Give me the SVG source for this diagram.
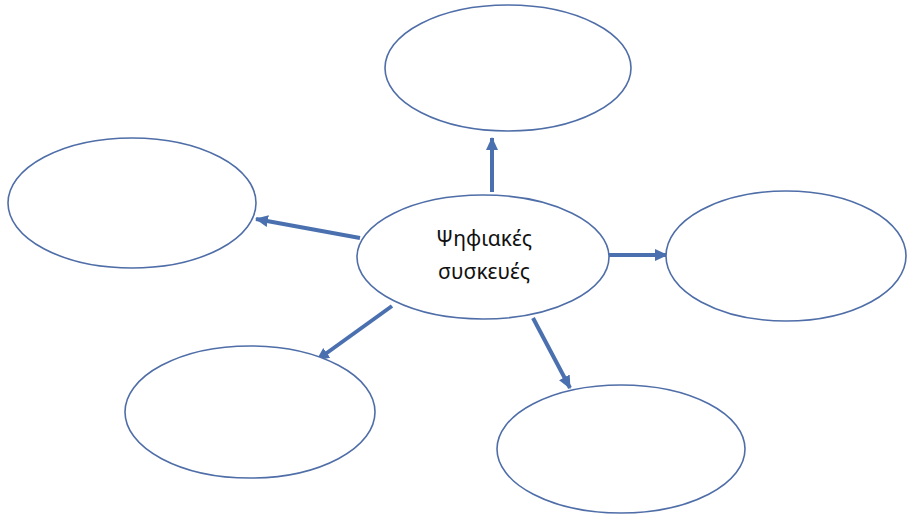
<svg xmlns="http://www.w3.org/2000/svg" width="909" height="517" viewBox="0 0 909 517">
<style>
.node ellipse{fill:#fff;stroke:#4f6ea8;stroke-width:1.6}
.conn line{stroke:#4a70b0;stroke-width:4;fill:none}
.lbl{font-family:"Noto Sans","Open Sans",sans-serif;font-size:21px;fill:#111;text-anchor:middle}
</style>
<defs>
<marker id="ah" markerUnits="userSpaceOnUse" markerWidth="14" markerHeight="14" refX="12" refY="7" orient="auto">
<path d="M0,1 L13,7 L0,13 z" fill="#4a70b0"/>
</marker>
</defs>
<rect width="909" height="517" fill="#fff"/>
<g class="conn">
<line x1="492" y1="192" x2="492" y2="138" marker-end="url(#ah)"/>
<line x1="360" y1="238" x2="256" y2="219" marker-end="url(#ah)"/>
<line x1="607" y1="255" x2="667" y2="255" marker-end="url(#ah)"/>
<line x1="392" y1="306" x2="317" y2="360" marker-end="url(#ah)"/>
<line x1="533" y1="318" x2="570" y2="388" marker-end="url(#ah)"/>
</g>
<g id="center" class="node"><ellipse cx="483" cy="257" rx="126" ry="62"/>
<text class="lbl" x="484" y="246">Ψηφιακές</text>
<text class="lbl" x="484" y="279">συσκευές</text></g>
<g id="top" class="node"><ellipse cx="508" cy="68" rx="123" ry="63"/></g>
<g id="left" class="node"><ellipse cx="132" cy="203" rx="124" ry="65"/></g>
<g id="right" class="node"><ellipse cx="786" cy="256" rx="120" ry="65"/></g>
<g id="bottomleft" class="node"><ellipse cx="250" cy="412" rx="125" ry="66"/></g>
<g id="bottomright" class="node"><ellipse cx="621" cy="449" rx="124" ry="64"/></g>
</svg>
